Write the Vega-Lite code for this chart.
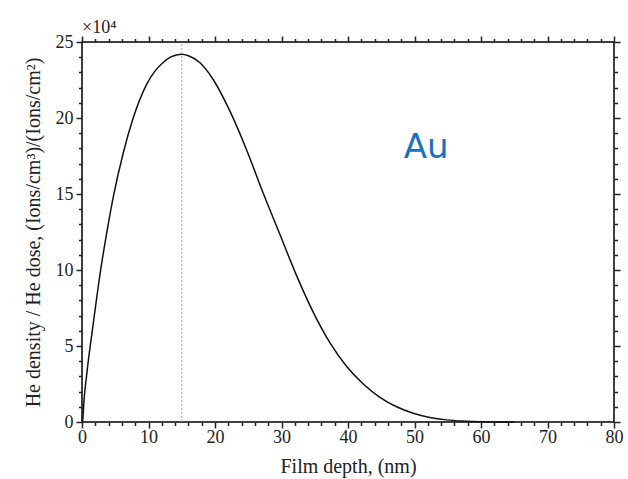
{
  "$schema": "https://vega.github.io/schema/vega-lite/v6.json",
  "autosize": "none",
  "width": 532,
  "height": 380,
  "padding": {"left": 82, "top": 42, "right": 14, "bottom": 57},
  "background": "white",
  "config": {
    "view": {"stroke": "black", "strokeWidth": 1.5},
    "axis": {
      "domain": false,
      "grid": false,
      "ticks": true,
      "tickColor": "#222",
      "tickWidth": 1.5,
      "labelFont": "Liberation Serif",
      "titleFont": "Liberation Serif",
      "labelFontSize": 18,
      "titleFontSize": 20,
      "titleFontWeight": "normal",
      "labelColor": "#222",
      "titleColor": "#222",
      "labelFlush": false
    }
  },
  "datasets": {
    "curve": [
      {"depth": 0.1, "ratio": 0},
      {"depth": 0.3, "ratio": 1.4},
      {"depth": 0.7, "ratio": 3.1},
      {"depth": 1.7, "ratio": 6.5},
      {"depth": 2.7, "ratio": 9.7},
      {"depth": 3.7, "ratio": 12.4},
      {"depth": 4.7, "ratio": 14.8},
      {"depth": 6.2, "ratio": 17.7},
      {"depth": 7.7, "ratio": 20.0},
      {"depth": 9.7, "ratio": 22.2},
      {"depth": 11.0, "ratio": 23.1},
      {"depth": 12.2, "ratio": 23.65},
      {"depth": 13.3, "ratio": 24.0},
      {"depth": 14.2, "ratio": 24.15},
      {"depth": 15.0, "ratio": 24.2},
      {"depth": 16.0, "ratio": 24.1},
      {"depth": 17.7, "ratio": 23.65},
      {"depth": 19.7, "ratio": 22.55},
      {"depth": 22.3, "ratio": 20.4},
      {"depth": 24.8, "ratio": 17.85},
      {"depth": 27.3, "ratio": 15.0},
      {"depth": 29.8, "ratio": 12.3},
      {"depth": 32.3, "ratio": 9.6},
      {"depth": 34.8, "ratio": 7.2},
      {"depth": 37.3, "ratio": 5.2},
      {"depth": 39.8, "ratio": 3.65},
      {"depth": 42.3, "ratio": 2.5},
      {"depth": 44.8, "ratio": 1.62},
      {"depth": 47.3, "ratio": 1.0},
      {"depth": 49.8, "ratio": 0.58},
      {"depth": 52.3, "ratio": 0.3},
      {"depth": 54.8, "ratio": 0.14},
      {"depth": 57.3, "ratio": 0.06},
      {"depth": 59.8, "ratio": 0.02},
      {"depth": 62.0, "ratio": 0.0},
      {"depth": 65.0, "ratio": 0.0}
    ],
    "peak": [{"depth": 15}],
    "exp": [{"depth": 0, "ratio": 25, "text": "×10⁴"}],
    "au": [{"depth": 48.4, "ratio": 18.0, "text": "Au"}]
  },
  "resolve": {"axis": {"x": "independent", "y": "independent"}},
  "layer": [
    {
      "data": {"name": "curve"},
      "mark": {"type": "line", "color": "#111", "strokeWidth": 1.5, "interpolate": "monotone"},
      "encoding": {
        "x": {
          "field": "depth", "type": "quantitative",
          "scale": {"domain": [0, 80], "nice": false},
          "axis": {
            "orient": "bottom",
            "title": "Film depth, (nm)",
            "values": [0, 10, 20, 30, 40, 50, 60, 70, 80],
            "tickSize": 6,
            "labelPadding": 0,
            "titlePadding": 10
          }
        },
        "y": {
          "field": "ratio", "type": "quantitative",
          "scale": {"domain": [0, 25], "nice": false},
          "axis": {
            "orient": "left",
            "title": "He density / He dose, (Ions/cm³)/(Ions/cm²)",
            "values": [0, 5, 10, 15, 20, 25],
            "tickSize": 6,
            "labelPadding": 3,
            "titlePadding": 12
          }
        }
      }
    },
    {
      "data": {"name": "peak"},
      "mark": {"type": "rule", "color": "#aaaaaa", "strokeWidth": 1, "strokeDash": [2, 2]},
      "encoding": {
        "x": {
          "field": "depth", "type": "quantitative",
          "axis": {
            "orient": "bottom",
            "title": null,
            "labels": false,
            "values": [2,4,6,8,12,14,16,18,22,24,26,28,32,34,36,38,42,44,46,48,52,54,56,58,62,64,66,68,72,74,76,78],
            "tickSize": 3.5
          }
        },
        "y": {
          "datum": 0, "type": "quantitative",
          "axis": {
            "orient": "left",
            "title": null,
            "labels": false,
            "values": [1,2,3,4,6,7,8,9,11,12,13,14,16,17,18,19,21,22,23,24],
            "tickSize": 3.5
          }
        },
        "y2": {"datum": 25}
      }
    },
    {
      "data": {"name": "exp"},
      "mark": {"type": "text", "font": "Liberation Serif", "fontSize": 18, "color": "#222", "align": "left", "baseline": "bottom", "dy": -5},
      "encoding": {
        "x": {
          "field": "depth", "type": "quantitative",
          "axis": {
            "orient": "top",
            "title": null,
            "labels": false,
            "values": [0, 10, 20, 30, 40, 50, 60, 70, 80],
            "tickSize": 6
          }
        },
        "y": {
          "field": "ratio", "type": "quantitative",
          "axis": {
            "orient": "right",
            "title": null,
            "labels": false,
            "values": [0, 5, 10, 15, 20, 25],
            "tickSize": 6
          }
        },
        "text": {"field": "text"}
      }
    },
    {
      "data": {"name": "au"},
      "mark": {"type": "text", "font": "DejaVu Sans", "fontSize": 34, "color": "#1a72bf", "align": "left", "baseline": "middle"},
      "encoding": {
        "x": {
          "field": "depth", "type": "quantitative",
          "axis": {
            "orient": "top",
            "title": null,
            "labels": false,
            "values": [2,4,6,8,12,14,16,18,22,24,26,28,32,34,36,38,42,44,46,48,52,54,56,58,62,64,66,68,72,74,76,78],
            "tickSize": 3.5
          }
        },
        "y": {
          "field": "ratio", "type": "quantitative",
          "axis": {
            "orient": "right",
            "title": null,
            "labels": false,
            "values": [1,2,3,4,6,7,8,9,11,12,13,14,16,17,18,19,21,22,23,24],
            "tickSize": 3.5
          }
        },
        "text": {"field": "text"}
      }
    }
  ]
}
